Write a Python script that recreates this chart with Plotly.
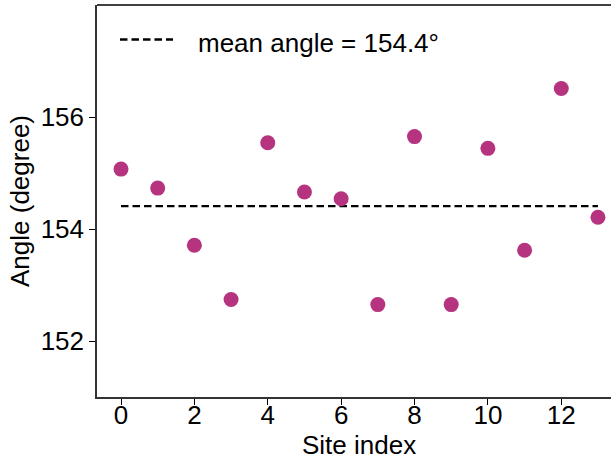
import numpy as np
import plotly.graph_objects as go

# Bond angle measured at each site
site_index = list(range(14))
angle_deg = [155.07, 154.73, 153.71, 152.74, 155.54, 154.66, 154.54,
             152.65, 155.65, 152.65, 155.44, 153.62, 156.51, 154.21]

x_ticks = [0, 2, 4, 6, 8, 10, 12]
y_ticks = [152, 154, 156]

mean_angle = float(np.mean(angle_deg))
mean_label = f"mean angle = {mean_angle:.1f}°"

FONT = "Liberation Sans, Arial, sans-serif"
FS = 26
POINT_COLOR = "#b5337f"
DASH = "7.5px,4px"

X_RANGE = [-0.654, 13.355]
X_FULL_RIGHT = 13.65  # axes continue past the right edge of the canvas

fig = go.Figure()

fig.add_trace(go.Scatter(
    x=[site_index[0], site_index[-1]],
    y=[mean_angle, mean_angle],
    mode="lines",
    line=dict(color="black", width=2.3, dash=DASH),
    name=mean_label,
    showlegend=False,
))

fig.add_trace(go.Scatter(
    x=site_index,
    y=angle_deg,
    mode="markers",
    marker=dict(color=POINT_COLOR, size=15, line=dict(width=0)),
    showlegend=False,
))

# x-axis title centred on the full axes span
title_x = ((X_RANGE[0] + X_FULL_RIGHT) / 2 - X_RANGE[0]) / (X_RANGE[1] - X_RANGE[0])

LEG_LINE_Y = 0.912
LEG_TEXT_Y = 0.903
fig.update_layout(
    width=611,
    height=459,
    margin=dict(l=97, r=0, t=5, b=62),
    paper_bgcolor="white",
    plot_bgcolor="white",
    font=dict(family=FONT, size=FS, color="black"),
    shapes=[
        dict(type="line", xref="paper", yref="paper",
             x0=0, x1=1, y0=1, y1=1,
             line=dict(color="black", width=1.5)),
        dict(type="line", xref="paper", yref="paper",
             x0=0.0447, x1=0.1479, y0=LEG_LINE_Y, y1=LEG_LINE_Y,
             line=dict(color="black", width=2.3, dash=DASH)),
    ],
    annotations=[
        dict(xref="paper", yref="paper", x=0.1926, y=LEG_TEXT_Y,
             xanchor="left", yanchor="middle", showarrow=False,
             text=mean_label, font=dict(family=FONT, size=FS, color="black")),
        dict(xref="paper", yref="paper", x=title_x, y=-0.1225,
             xanchor="center", yanchor="middle", showarrow=False,
             text="Site index", font=dict(family=FONT, size=FS, color="black")),
    ],
)

fig.update_xaxes(
    range=X_RANGE,
    tickvals=x_ticks,
    ticks="outside", ticklen=6, tickwidth=1.2, tickcolor="black",
    ticklabelstandoff=-12,
    showline=True, linecolor="#333333", linewidth=1.5,
    showgrid=False, zeroline=False,
    tickfont=dict(family=FONT, size=FS),
)

fig.update_yaxes(
    range=[151, 158],
    tickvals=y_ticks,
    ticks="outside", ticklen=6, tickwidth=1.2, tickcolor="black",
    showline=True, linecolor="#333333", linewidth=1.5,
    showgrid=False, zeroline=False,
    title=dict(text="Angle (degree)", font=dict(family=FONT, size=FS), standoff=4),
    tickfont=dict(family=FONT, size=FS),
)

fig.write_html("out.html")
